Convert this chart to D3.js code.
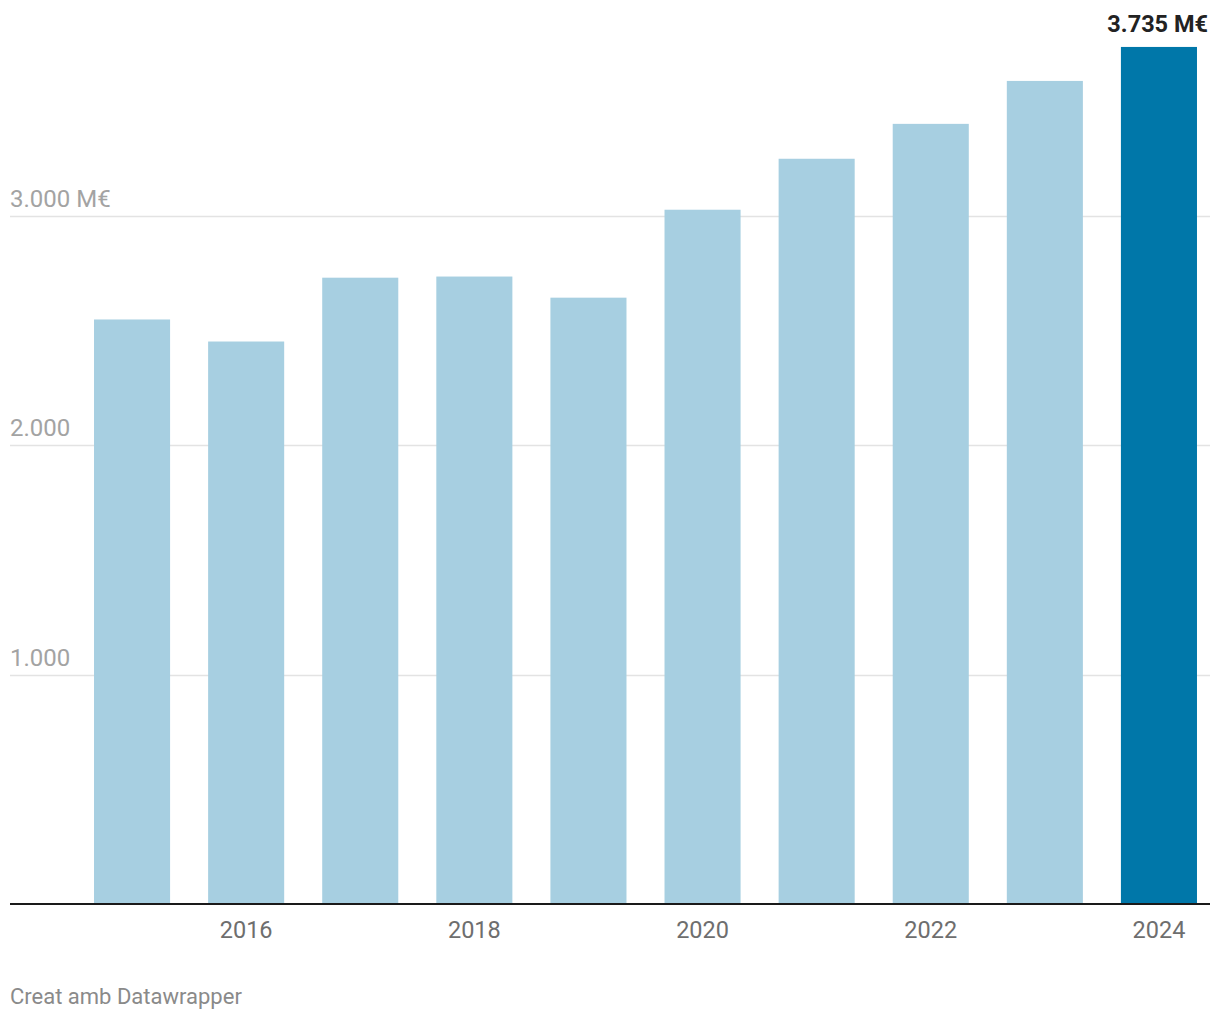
<!DOCTYPE html>
<html>
<head>
<meta charset="utf-8">
<script src="https://cdn.jsdelivr.net/npm/d3@7"></script>
<style>
  html, body { margin: 0; padding: 0; background: #fff; }
  svg { display: block; font-family: Roboto, "Noto Sans", sans-serif; }
</style>
</head>
<body>
<svg id="chart" width="1220" height="1020"></svg>
<script>
const years = [2015, 2016, 2017, 2018, 2019, 2020, 2021, 2022, 2023, 2024];
const values = [2548, 2452, 2730, 2735, 2643, 3026, 3248, 3400, 3587, 3735];
const yTicks = [1000, 2000, 3000];
const yTickLabels = ["1.000", "2.000", "3.000 M€"];
const xTickYears = [2016, 2018, 2020, 2022, 2024];
const highlightLabel = "3.735 M€";
const credit = "Creat amb Datawrapper";

const svg = d3.select("#chart");
const left = 10, right = 1210;

const x = d3.scaleBand().domain(years).range([75, 1216]).paddingInner(1/3).paddingOuter(1/6);
const y = d3.scaleLinear().domain([0, 4000]).range([904.5, 904.5 - 4000 * 0.2296]);

// gridlines
svg.append("g").selectAll("line").data(yTicks).join("line")
  .attr("x1", left).attr("x2", right)
  .attr("y1", d => Math.round(y(d)) + 0.5).attr("y2", d => Math.round(y(d)) + 0.5)
  .attr("stroke", "#e3e3e3").attr("stroke-width", 1.5);

// y labels
svg.append("g").selectAll("text").data(yTicks).join("text")
  .attr("x", left).attr("y", d => y(d) - 9)
  .attr("fill", "#a3a3a3").attr("font-size", 24)
  .text((d, i) => yTickLabels[i]);

// bars
svg.append("g").selectAll("rect").data(values).join("rect")
  .attr("x", (d, i) => x(years[i]))
  .attr("width", x.bandwidth())
  .attr("y", d => y(d))
  .attr("height", d => y(0) - y(d))
  .attr("fill", (d, i) => i === years.length - 1 ? "#0077a9" : "#a7cfe1");

// baseline
svg.append("line").attr("x1", left).attr("x2", right)
  .attr("y1", 904).attr("y2", 904).attr("stroke", "#1a1a1a").attr("stroke-width", 2);

// x axis labels
svg.append("g").selectAll("text").data(xTickYears).join("text")
  .attr("x", d => x(d) + x.bandwidth() / 2)
  .attr("y", 938)
  .attr("text-anchor", "middle")
  .attr("fill", "#6e6e6e").attr("font-size", 23.5)
  .text(d => d);

// highlight value label
svg.append("text")
  .attr("x", 1208).attr("y", y(values[values.length - 1]) - 15)
  .attr("text-anchor", "end")
  .attr("font-weight", "bold").attr("font-size", 23.5)
  .attr("fill", "#222")
  .text(highlightLabel);

// credit
svg.append("text").attr("x", left).attr("y", 1004)
  .attr("fill", "#8a8a8a").attr("font-size", 22)
  .text(credit);
</script>
</body>
</html>
